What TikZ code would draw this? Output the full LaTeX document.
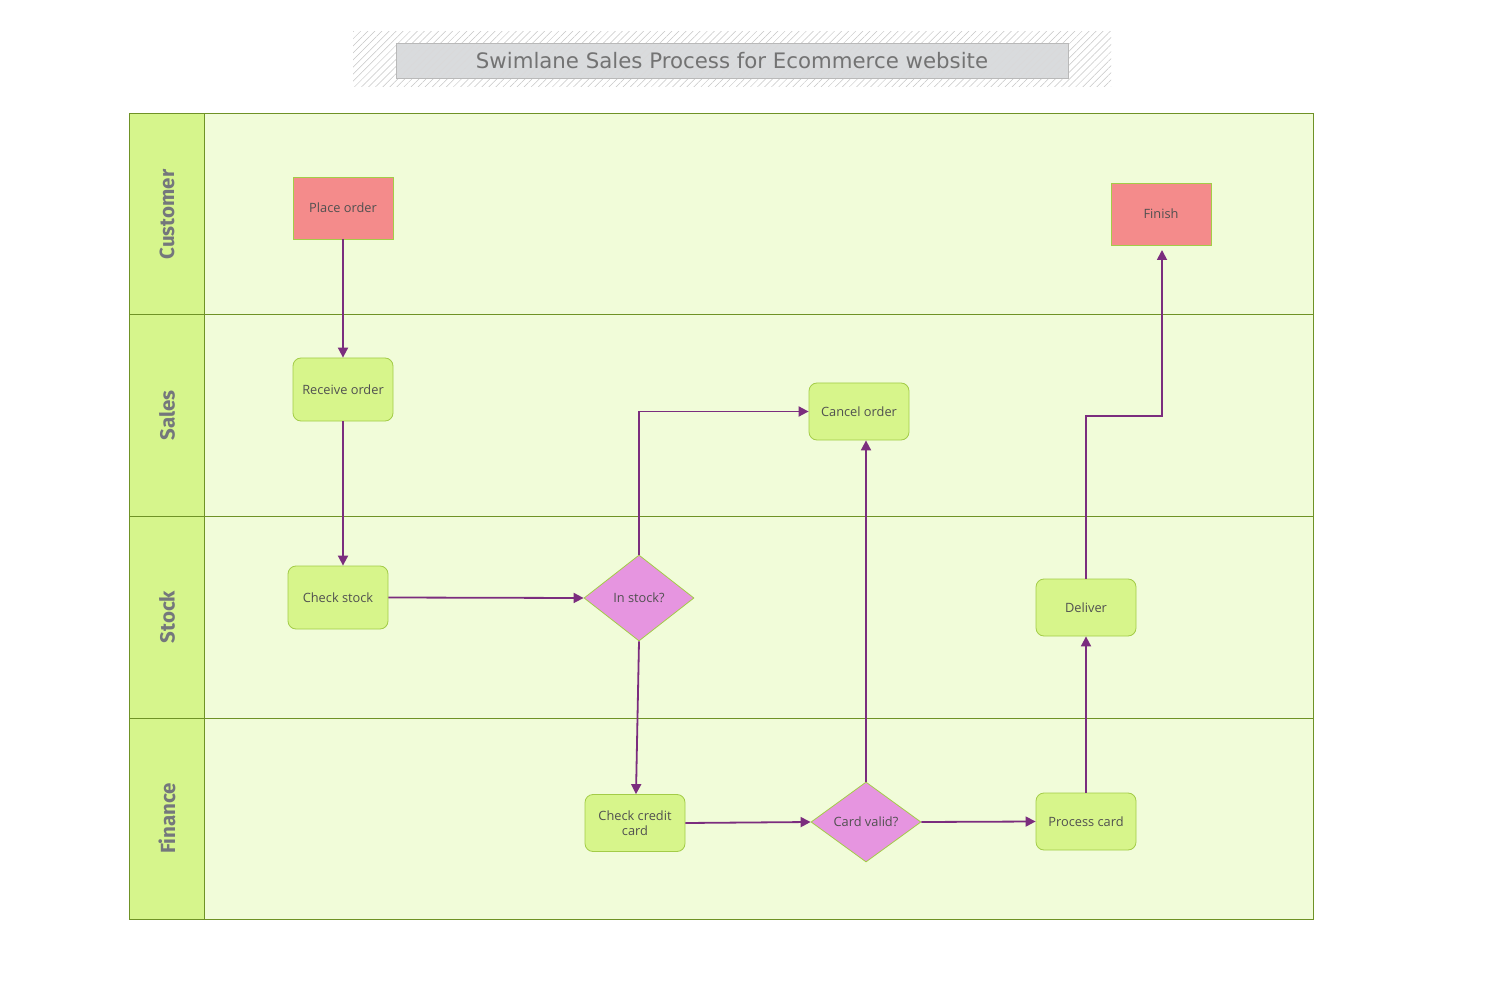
\documentclass[tikz,border=0pt]{standalone}
\usepackage{fontspec}
\setmainfont{Open Sans}
\newfontfamily\titlefont{DejaVu Sans}
\newfontfamily\lanefont{Fira Sans}
\usetikzlibrary{shapes.geometric,arrows.meta,patterns.meta}
\definecolor{laneline}{HTML}{6F9226}
\definecolor{headfill}{HTML}{D6F58C}
\definecolor{lanefill}{HTML}{F1FCD9}
\definecolor{boxfill}{HTML}{D7F58B}
\definecolor{boxline}{HTML}{A3CC48}
\definecolor{redfill}{HTML}{F48B8B}
\definecolor{pinkfill}{HTML}{E695E0}
\definecolor{flow}{HTML}{7B2D7E}
\definecolor{txt}{HTML}{505050}
\definecolor{titlebox}{HTML}{D9DBDD}
\definecolor{lanetxt}{HTML}{74777C}
\tikzset{
  procbox/.style={draw=boxline, fill=boxfill, rounded corners=8pt, minimum width=100pt, minimum height=57pt, inner sep=2pt, align=center, text=txt, font=\fontsize{12.8}{14.5}\selectfont, line width=0.8pt},
  termbox/.style={draw=boxline, fill=redfill, minimum width=100pt, minimum height=62pt, inner sep=2pt, align=center, text=txt, font=\fontsize{12.8}{14.5}\selectfont, line width=0.8pt},
  decide/.style={diamond, draw=boxline, fill=pinkfill, minimum width=110pt, minimum height=84pt, inner sep=0pt, align=center, text=txt, font=\fontsize{12.8}{14.5}\selectfont, line width=0.8pt},
  flowline/.style={draw=flow, line width=1.8pt, -{Triangle[length=10pt,width=10pt]}},
  lanelabel/.style={rotate=90, text=lanetxt, font=\lanefont\bfseries\fontsize{20.5}{22}\selectfont},
}
\begin{document}
\begin{tikzpicture}[x=1pt,y=-1pt]
\useasboundingbox (0,0) rectangle (1500,1000);
\fill[white] (0,0) rectangle (1500,1000);
% title
\fill[pattern={Lines[angle=45,distance=5pt,line width=0.5pt]}, pattern color=gray!45] (353,32) rectangle (1111,87);
\fill[titlebox] (396,43) rectangle (1068,78);
\fill[pattern={Lines[angle=45,distance=5pt,line width=0.4pt]}, pattern color=gray!30] (396,43) rectangle (1068,78);
\draw[gray!55, line width=0.8pt] (396,43) rectangle (1068,78);
\node[text=gray!90!black, font=\titlefont\fontsize{21.3}{24}\selectfont] (title) at (732,60.5) {Swimlane Sales Process for Ecommerce website};
% pool
\fill[lanefill] (204,114) rectangle (1313,919);
\fill[headfill] (129,114) rectangle (204,919);
\draw[laneline, line width=1pt] (129,114) rectangle (1313,919);
\draw[laneline, line width=1pt] (204,114) -- (204,919);
\foreach \yy in {315,516,718} \draw[laneline, line width=1pt] (129,\yy) -- (1313,\yy);
\node[lanelabel] (lcust) at (167,214.5) {Customer};
\node[lanelabel] (lsales) at (167,415.5) {Sales};
\node[lanelabel] (lstock) at (167,617) {Stock};
\node[lanelabel] (lfin) at (167,818.5) {Finance};
% nodes
\node[termbox] (place) at (343,208) {Place order};
\node[termbox] (finish) at (1161,214) {Finish};
\node[procbox, minimum height=63pt] (receive) at (343,389.5) {Receive order};
\node[procbox] (cancel) at (859,411.5) {Cancel order};
\node[procbox, minimum height=63pt] (check) at (338,597.5) {Check stock};
\node[decide, minimum height=86pt] (instock) at (639,598) {In stock?};
\node[procbox] (deliver) at (1086,607.5) {Deliver};
\node[procbox] (credit) at (635,823) {Check credit\\card};
\node[decide, minimum height=80pt] (valid) at (866,822) {Card valid?};
\node[procbox] (process) at (1086,821.5) {Process card};
% connectors
\draw[flowline] (place.south) -- (receive.north);
\draw[flowline] (receive.south) -- (receive.south |- check.north);
\draw[flowline] (check.east) -- (instock.west);
\draw[flowline] (instock.north) -- (instock.north |- cancel.west) -- (cancel.west);
\draw[flowline] (instock.south) -- ([xshift=-3pt]instock.south |- credit.north);
\draw[flowline] (credit.east) -- (valid.west);
\draw[flowline] (valid.north) -- (valid.north |- cancel.south);
\draw[flowline] (valid.east) -- (process.west);
\draw[flowline] (process.north) -- (deliver.south);
\coordinate (bend1) at (1086,416);
\coordinate (bend2) at (1162,416);
\coordinate (finin) at (1162,250);
\draw[flowline] (deliver.north) -- (bend1) -- (bend2) -- (finin);
\end{tikzpicture}
\end{document}
